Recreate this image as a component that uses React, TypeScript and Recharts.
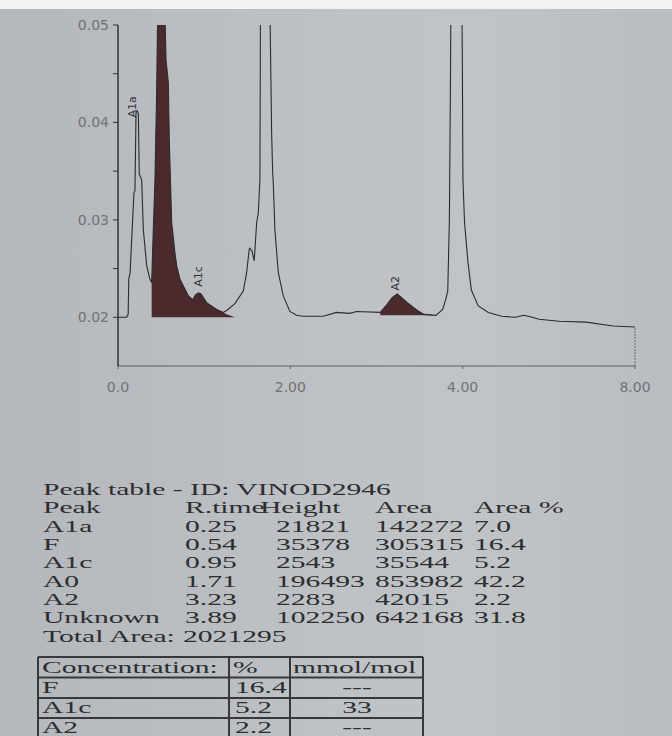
import React from "react";
import {
  ComposedChart,
  Line,
  Area,
  XAxis,
  YAxis,
  ReferenceDot,
  ReferenceLine,
} from "recharts";

// ---- chromatogram trace (time in min, absorbance) ----
const times = [
  0, 0.1, 0.118, 0.125, 0.14, 0.17, 0.185, 0.197, 0.209, 0.222, 0.236, 0.247,
  0.275, 0.294, 0.333, 0.371, 0.391, 0.406, 0.429, 0.447, 0.458, 0.476, 0.499,
  0.522, 0.545, 0.557, 0.584, 0.595, 0.615, 0.623, 0.661, 0.681, 0.719, 0.816,
  0.867, 0.899, 0.932, 0.963, 1.029, 1.145, 1.222, 1.261, 1.357, 1.454, 1.493,
  1.523, 1.531, 1.555, 1.581, 1.609, 1.628, 1.647, 1.65, 1.662, 1.69, 1.705,
  1.722, 1.745, 1.763, 1.783, 1.795, 1.802, 1.821, 1.86, 1.918, 1.995, 2.073,
  2.15, 2.382, 2.537, 2.691, 2.769, 3.044, 3.122, 3.179, 3.239, 3.295, 3.357,
  3.474, 3.552, 3.69, 3.768, 3.808, 3.827, 3.846, 3.859, 3.869, 3.927, 3.985,
  3.997, 4.003, 4.022, 4.062, 4.101, 4.179, 4.297, 4.454, 4.612, 4.709, 4.808,
  4.886, 5.12, 5.433, 5.746, 6.0,
];
const signal = [
  0.02, 0.02, 0.0203, 0.024, 0.0245, 0.03, 0.0328, 0.033, 0.041, 0.0412, 0.0409,
  0.0347, 0.0341, 0.029, 0.0253, 0.0239, 0.0236, 0.028, 0.0341, 0.0423, 0.0495,
  0.053, 0.0554, 0.0545, 0.051, 0.0464, 0.0441, 0.0382, 0.0321, 0.0297, 0.0266,
  0.0253, 0.0239, 0.0222, 0.0218, 0.0223, 0.0225, 0.0224, 0.0215, 0.0208,
  0.0205, 0.0207, 0.0214, 0.0227, 0.0246, 0.027, 0.0271, 0.0268, 0.0258,
  0.0297, 0.0307, 0.0341, 0.042, 0.08, 0.17, 0.216, 0.17, 0.09, 0.052, 0.0389,
  0.0348, 0.0338, 0.029, 0.0246, 0.0222, 0.0206, 0.0202, 0.0201, 0.0201,
  0.0205, 0.0204, 0.0206, 0.0205, 0.0213, 0.022, 0.0224, 0.022, 0.0215, 0.0207,
  0.0203, 0.0202, 0.0208, 0.022, 0.0227, 0.03, 0.045, 0.06, 0.122, 0.06, 0.045,
  0.0341, 0.0297, 0.0256, 0.0228, 0.0212, 0.0205, 0.0201, 0.02, 0.0202, 0.02,
  0.0198, 0.0196, 0.0195, 0.0191, 0.019,
];

// ---- integrated (shaded) peaks ----
const fillFTimes = [
  0.391, 0.406, 0.429, 0.447, 0.458, 0.476, 0.499, 0.522, 0.545, 0.557, 0.584,
  0.595, 0.615, 0.623, 0.661, 0.681, 0.719, 0.816, 0.867, 0.899, 0.932, 0.963,
  1.029, 1.145, 1.222, 1.261, 1.357,
];
const fillFValues = [
  0.0236, 0.028, 0.0341, 0.0423, 0.0495, 0.053, 0.0554, 0.0545, 0.051, 0.0464,
  0.0441, 0.0382, 0.0321, 0.0297, 0.0266, 0.0253, 0.0239, 0.0222, 0.0218,
  0.0223, 0.0225, 0.0224, 0.0215, 0.0208, 0.0205, 0.0203, 0.02,
];
const fillA2Times = [3.044, 3.122, 3.179, 3.239, 3.295, 3.357, 3.474, 3.552, 3.69];
const fillA2Values = [0.0205, 0.0213, 0.022, 0.0224, 0.022, 0.0215, 0.0207, 0.0203, 0.0202];

// ---- peak labels on the plot ----
const plotLabelNames = ["A1a", "A1c", "A2"];
const plotLabelTimes = [0.174, 0.94, 3.215];
const plotLabelValues = [0.0416, 0.0242, 0.0235];

// ---- axes ----
const xTicks = [0, 2, 4, 6];
const xTickLabels = ["0.0", "2.00", "4.00", "8.00"];
const yTicks = [0.02, 0.025, 0.03, 0.035, 0.04, 0.045, 0.05];
const yTickLabels = ["0.02", "", "0.03", "", "0.04", "", "0.05"];

// ---- peak table ----
const tableId = "VINOD2946";
const peakNames = ["A1a", "F", "A1c", "A0", "A2", "Unknown"];
const peakRTimes = [0.25, 0.54, 0.95, 1.71, 3.23, 3.89];
const peakHeights = [21821, 35378, 2543, 196493, 2283, 102250];
const peakAreas = [142272, 305315, 35544, 853982, 42015, 642168];
const peakAreaPct = [7.0, 16.4, 5.2, 42.2, 2.2, 31.8];
const totalArea = 2021295;

// ---- concentration table ----
const concNames = ["F", "A1c", "A2"];
const concPct = ["16.4", "5.2", "2.2"];
const concMmol = ["---", "33", "---"];

function buildRows() {
  const map = new Map<number, any>();
  const get = (t: number) => {
    if (!map.has(t)) map.set(t, { t });
    return map.get(t);
  };
  times.forEach((t, i) => (get(t).signal = signal[i]));
  fillFTimes.forEach((t, i) => (get(t).fillF = fillFValues[i]));
  fillA2Times.forEach((t, i) => (get(t).fillA2 = fillA2Values[i]));
  return Array.from(map.values()).sort((a, b) => a.t - b.t);
}
const rows = buildRows();

const SERIF = "'Liberation Serif', 'Times New Roman', serif";
const TXT = "#2d2d2d";

function Txt({ x, y, anchor, children }: { x: number; y: number; anchor?: string; children: any }) {
  return (
    <text
      transform={`translate(${x} ${y}) scale(1.85 1)`}
      fontFamily={SERIF}
      fontSize={16}
      fill={TXT}
      textAnchor={anchor || "start"}
    >
      {children}
    </text>
  );
}

const rowBase = 495;
const rowStep = 18.33;
const colPeak = 43;
const colRt = 185;
const colHeight = 276;
const colArea = 375;
const colPct = 474;

export default function App() {
  return (
    <div
      style={{
        position: "absolute",
        left: 0,
        top: 0,
        width: 672,
        height: 736,
        overflow: "hidden",
        background: "linear-gradient(90deg, #b4b7bb 0%, #bdc0c4 45%, #c1c4c7 70%, #b9bcc0 100%)",
      }}
    >
      <div style={{ position: "absolute", left: 0, top: 0, width: 672, height: 9, background: "#f2f2f2" }} />
      <div style={{ position: "absolute", left: 0, top: 0 }}>
        <ComposedChart
          width={672}
          height={400}
          data={rows}
          margin={{ top: 25, right: 37, left: 58, bottom: 4 }}
        >
          <XAxis
            type="number"
            dataKey="t"
            domain={[0, 6]}
            ticks={xTicks}
            interval={0}
            allowDataOverflow
            tickFormatter={(v: number) => xTickLabels[xTicks.indexOf(v)]}
            axisLine={{ stroke: "#5e5e5e", strokeWidth: 1 }}
            tickLine={{ stroke: "#5e5e5e" }}
            tickSize={3}
            tickMargin={13}
            height={30}
            tick={{ fill: "#727272", fontSize: 14, fontFamily: "DejaVu Sans" }}
          />
          <YAxis
            type="number"
            domain={[0.015, 0.05]}
            ticks={yTicks}
            interval={0}
            allowDataOverflow
            tickFormatter={(v: number) => yTickLabels[yTicks.indexOf(v)]}
            axisLine={{ stroke: "#333", strokeWidth: 1.5 }}
            tickLine={{ stroke: "#333" }}
            tickSize={5}
            tickMargin={4}
            width={60}
            tick={{ fill: "#727272", fontSize: 14, fontFamily: "DejaVu Sans" }}
          />
          <Area
            dataKey="fillF"
            type="linear"
            baseValue={0.02}
            stroke="none"
            fill="#4b2a2d"
            fillOpacity={1}
            connectNulls
            isAnimationActive={false}
            dot={false}
            activeDot={false}
          />
          <Area
            dataKey="fillA2"
            type="linear"
            baseValue={0.0202}
            stroke="none"
            fill="#4b2a2d"
            fillOpacity={1}
            connectNulls
            isAnimationActive={false}
            dot={false}
            activeDot={false}
          />
          <Line
            dataKey="signal"
            type="linear"
            stroke="#2b2b2b"
            strokeWidth={1.1}
            dot={false}
            activeDot={false}
            connectNulls
            isAnimationActive={false}
          />
          <ReferenceLine
            segment={[
              { x: 6, y: 0.015 },
              { x: 6, y: 0.019 },
            ]}
            stroke="#6a6a6a"
            strokeWidth={1}
            strokeDasharray="2 1"
          />
          {plotLabelNames.map((name, i) => (
            <ReferenceDot
              key={name}
              x={plotLabelTimes[i]}
              y={plotLabelValues[i]}
              r={0}
              ifOverflow="visible"
              shape={(p: any) => (
                <text
                  x={p.cx}
                  y={p.cy}
                  transform={`rotate(-90 ${p.cx} ${p.cy})`}
                  textAnchor="middle"
                  dominantBaseline="central"
                  fontFamily="DejaVu Sans"
                  fontSize={11}
                  fill="#333"
                >
                  {name}
                </text>
              )}
            />
          ))}
        </ComposedChart>
      </div>
      <svg
        width={672}
        height={736}
        style={{ position: "absolute", left: 0, top: 0, pointerEvents: "none" }}
      >
        <Txt x={colPeak} y={rowBase}>{`Peak table - ID: ${tableId}`}</Txt>
        <Txt x={colPeak} y={rowBase + rowStep}>Peak</Txt>
        <Txt x={colRt} y={rowBase + rowStep}>R.time</Txt>
        <Txt x={260} y={rowBase + rowStep}>Height</Txt>
        <Txt x={colArea} y={rowBase + rowStep}>Area</Txt>
        <Txt x={colPct} y={rowBase + rowStep}>Area %</Txt>
        {peakNames.map((n, i) => {
          const y = rowBase + rowStep * (i + 2);
          return (
            <g key={n}>
              <Txt x={colPeak} y={y}>{n}</Txt>
              <Txt x={colRt} y={y}>{peakRTimes[i].toFixed(2)}</Txt>
              <Txt x={colHeight} y={y}>{String(peakHeights[i])}</Txt>
              <Txt x={colArea} y={y}>{String(peakAreas[i])}</Txt>
              <Txt x={colPct} y={y}>{peakAreaPct[i].toFixed(1)}</Txt>
            </g>
          );
        })}
        <Txt x={colPeak} y={rowBase + rowStep * 8}>Total Area:</Txt>
        <Txt x={183} y={rowBase + rowStep * 8}>{String(totalArea)}</Txt>

        {/* concentration table */}
        <g stroke="#383838" strokeWidth={2}>
          {[657, 677.5, 698, 718, 738].map((y) => (
            <line key={y} x1={38} x2={423} y1={y} y2={y} />
          ))}
          {[38, 229, 290, 423].map((x) => (
            <line key={x} x1={x} x2={x} y1={657} y2={738} />
          ))}
        </g>
        <Txt x={42} y={673}>Concentration:</Txt>
        <Txt x={233} y={673}>%</Txt>
        <Txt x={293} y={673}>mmol/mol</Txt>
        {concNames.map((n, i) => {
          const y = 693 + 20 * i;
          return (
            <g key={n}>
              <Txt x={42} y={y}>{n}</Txt>
              <Txt x={235} y={y}>{concPct[i]}</Txt>
              <Txt x={357} y={y} anchor="middle">{concMmol[i]}</Txt>
            </g>
          );
        })}
      </svg>
    </div>
  );
}
